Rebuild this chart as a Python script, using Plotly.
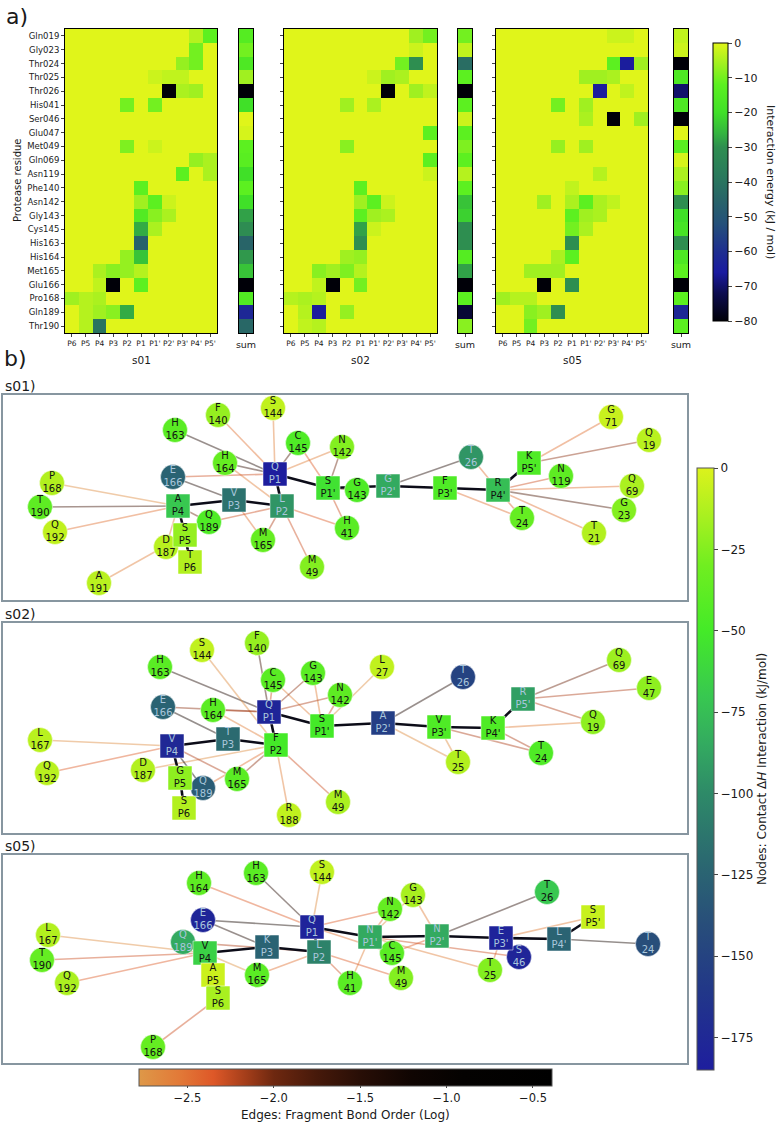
import plotly.graph_objects as go
from plotly.colors import sample_colorscale

W, H = 779, 1124

# ---------------- heatmap data (kJ/mol) ----------------
residues = ["Gln019", "Gly023", "Thr024", "Thr025", "Thr026", "His041", "Ser046", "Glu047",
            "Met049", "Gln069", "Asn119", "Phe140", "Asn142", "Gly143", "Cys145", "His163",
            "His164", "Met165", "Glu166", "Pro168", "Gln189", "Thr190"]
positions = ["P6", "P5", "P4", "P3", "P2", "P1", "P1'", "P2'", "P3'", "P4'", "P5'"]
sample_names = ["s01", "s02", "s05"]

s01_energy = [
    [0, 0, 0, 0, 0, 0, 0, 0, 0, -4, -12],
    [0, 0, 0, 0, 0, 0, 0, 0, 0, -10, 0],
    [0, 0, 0, 0, 0, 0, 0, 0, -7, -10, 0],
    [0, 0, 0, 0, 0, 0, -2, -3, -3, 0, 0],
    [0, 0, 0, 0, 0, 0, 0, -80, -5, -6, 0],
    [0, 0, 0, 0, -10, 0, -10, 0, 0, 0, 0],
    [0, 0, 0, 0, 0, 0, 0, 0, 0, 0, 0],
    [0, 0, 0, 0, 0, 0, 0, 0, 0, 0, 0],
    [0, 0, 0, 0, -9, 0, -2, 0, 0, 0, 0],
    [0, 0, 0, 0, 0, 0, 0, 0, 0, -7, -5],
    [0, 0, 0, 0, 0, 0, 0, 0, -12, 0, -5],
    [0, 0, 0, 0, 0, -12, 0, 0, 0, 0, 0],
    [0, 0, 0, 0, 0, -6, -12, -2, 0, 0, 0],
    [0, 0, 0, 0, 0, -15, -8, -5, 0, 0, 0],
    [0, 0, 0, 0, 0, -27, -5, 0, 0, 0, 0],
    [0, 0, 0, 0, 0, -46, 0, 0, 0, 0, 0],
    [0, 0, 0, 0, -7, -24, 0, 0, 0, 0, 0],
    [0, 0, -5, -8, -7, -4, 0, 0, 0, 0, 0],
    [0, 0, -3, -80, 0, -12, 0, 0, 0, 0, 0],
    [-6, -4, -5, 0, 0, 0, 0, 0, 0, 0, 0],
    [0, -4, -6, -8, -27, 0, 0, 0, 0, 0, 0],
    [0, -4, -40, 0, 0, 0, 0, 0, 0, 0, 0],
]
s02_energy = [
    [0, 0, 0, 0, 0, 0, 0, 0, 0, -6, -10],
    [0, 0, 0, 0, 0, 0, 0, 0, 0, -2, 0],
    [0, 0, 0, 0, 0, 0, 0, 0, -10, -30, 0],
    [0, 0, 0, 0, 0, 0, -2, -6, -5, 0, 0],
    [0, 0, 0, 0, 0, 0, 0, -80, 0, -6, -3],
    [0, 0, 0, 0, -6, 0, -5, 0, 0, 0, 0],
    [0, 0, 0, 0, 0, 0, 0, 0, 0, 0, 0],
    [0, 0, 0, 0, 0, 0, 0, 0, 0, 0, -12],
    [0, 0, 0, 0, -8, 0, 0, 0, 0, 0, 0],
    [0, 0, 0, 0, 0, 0, 0, 0, 0, 0, -12],
    [0, 0, 0, 0, 0, 0, 0, 0, 0, 0, -2],
    [0, 0, 0, 0, 0, -12, 0, 0, 0, 0, 0],
    [0, 0, 0, 0, 0, -6, -12, -2, 0, 0, 0],
    [0, 0, 0, 0, 0, -12, -6, -5, 0, 0, 0],
    [0, 0, 0, 0, 0, -28, -2, 0, 0, 0, 0],
    [0, 0, 0, 0, 0, -30, 0, 0, 0, 0, 0],
    [0, 0, 0, 0, -6, -7, 0, 0, 0, 0, 0],
    [0, 0, -8, -6, -9, -4, 0, 0, 0, 0, 0],
    [0, 0, -3, -80, 0, -10, 0, 0, 0, 0, 0],
    [-4, -5, -4, 0, 0, 0, 0, 0, 0, 0, 0],
    [0, -4, -65, 0, -7, 0, 0, 0, 0, 0, 0],
    [0, -3, -4, 0, 0, 0, 0, 0, 0, 0, 0],
]
s05_energy = [
    [0, 0, 0, 0, 0, 0, 0, 0, -2, -2, 0],
    [0, 0, 0, 0, 0, 0, 0, 0, 0, 0, 0],
    [0, 0, 0, 0, 0, 0, 0, 0, -12, -65, -6],
    [0, 0, 0, 0, 0, 0, -6, -6, -5, 0, 0],
    [0, 0, 0, 0, 0, 0, 0, -65, 0, -3, 0],
    [0, 0, 0, 0, -10, 0, -6, 0, 0, 0, 0],
    [0, 0, 0, 0, 0, 0, -5, 0, -80, 0, -6],
    [0, 0, 0, 0, 0, 0, 0, 0, 0, 0, 0],
    [0, 0, 0, 0, -7, 0, -6, 0, 0, 0, 0],
    [0, 0, 0, 0, 0, 0, 0, 0, 0, 0, 0],
    [0, 0, 0, 0, 0, 0, 0, -4, 0, 0, 0],
    [0, 0, 0, 0, 0, -3, 0, 0, 0, 0, 0],
    [0, 0, 0, -6, 0, -5, -12, -5, -3, 0, 0],
    [0, 0, 0, 0, 0, -12, -6, -5, 0, 0, 0],
    [0, 0, 0, 0, 0, -10, -5, 0, 0, 0, 0],
    [0, 0, 0, 0, 0, -30, 0, 0, 0, 0, 0],
    [0, 0, 0, 0, -5, -12, 0, 0, 0, 0, 0],
    [0, 0, -6, -6, -6, 0, 0, 0, 0, 0, 0],
    [0, 0, 0, -80, 0, -30, 0, 0, 0, 0, 0],
    [-6, -4, -4, 0, 0, 0, 0, 0, 0, 0, 0],
    [0, 0, -8, -6, -30, 0, 0, 0, 0, 0, 0],
    [0, 0, -10, 0, 0, 0, 0, 0, 0, 0, 0],
]
s01_sum = [-14, -10, -16, -6, -92, -20, 0, -1, -12, -13, -20, -12, -20, -28, -31, -45, -29, -24, -95, -15, -62, -44]
s02_sum = [-10, -3, -42, -12, -88, -12, -2, -12, -9, -12, -4, -12, -24, -22, -30, -30, -14, -28, -95, -12, -75, -8]
s05_sum = [-3, -2, -85, -16, -70, -16, -92, 0, -13, -1, -5, -8, -30, -20, -18, -30, -16, -12, -100, -12, -62, -12]

# ---------------- network data ----------------
s01_labels = ["F 140", "S 144", "H 163", "C 145", "N 142", "H 164", "E 166", "G 143", "P 168", "T 190",
              "Q 189", "Q 192", "H 41", "M 165", "D 187", "M 49", "A 191", "G 71", "Q 19", "T 26",
              "N 119", "Q 69", "G 23", "T 24", "T 21", "Q P1", "S P1'", "G P2'", "V P3", "L P2",
              "A P4", "S P5", "T P6", "K P5'", "F P3'", "R P4'"]
s01_x = [218, 273, 175, 298, 342, 225, 173, 357, 52, 40, 209, 55, 347, 263, 166, 312, 99, 611, 649, 471,
         561, 632, 624, 522, 594, 275, 328, 388, 234, 282, 178, 185, 190, 529, 445, 498]
s01_y = [415, 408, 430, 443, 447, 463, 477, 490, 483, 507, 522, 532, 528, 540, 547, 567, 583, 417, 440, 457,
         476, 486, 510, 518, 533, 474, 488, 486, 500, 506, 506, 535, 562, 463, 488, 490]
s01_dh = [-20, -8, -40, -45, -25, -35, -125, -45, -12, -38, -45, -8, -40, -35, -10, -25, -10, -6, -10, -95,
          -38, -14, -25, -35, -12, -185, -55, -85, -115, -95, -70, -20, -12, -45, -45, -75]
s01_chain = ["T P6", "S P5", "A P4", "V P3", "L P2", "Q P1", "S P1'", "G P2'", "F P3'", "R P4'", "K P5'"]
s01_src = ["H 163", "F 140", "S 144", "C 145", "H 164", "H 164", "E 166", "E 166", "N 142", "N 142", "C 145",
           "H 41", "H 41", "M 49", "M 165", "M 165", "Q 189", "Q 189", "P 168", "T 190", "Q 192", "A 191",
           "D 187", "G 143", "T 26", "T 26", "G 71", "Q 19", "N 119", "Q 69", "G 23", "T 21", "T 24", "T 24"]
s01_dst = ["Q P1", "Q P1", "Q P1", "Q P1", "Q P1", "L P2", "Q P1", "V P3", "S P1'", "Q P1", "S P1'",
           "S P1'", "L P2", "L P2", "L P2", "V P3", "L P2", "A P4", "A P4", "A P4", "A P4", "S P5",
           "A P4", "S P1'", "G P2'", "R P4'", "K P5'", "K P5'", "R P4'", "R P4'", "R P4'", "R P4'", "R P4'", "F P3'"]
s01_bo = [-1.4, -2.5, -2.6, -1.8, -1.6, -2.6, -2.3, -1.4, -2.0, -2.6, -2.4,
          -2.3, -2.4, -2.3, -2.2, -2.5, -2.3, -2.0, -2.7, -1.7, -2.5, -2.6,
          -2.6, -2.0, -1.4, -2.5, -2.5, -2.1, -2.3, -2.5, -1.8, -2.5, -2.4, -2.5]

s02_labels = ["S 144", "F 140", "H 163", "G 143", "L 27", "C 145", "N 142", "E 166", "H 164", "L 167",
              "Q 192", "D 187", "M 165", "Q 189", "R 188", "M 49", "T 26", "Q 69", "E 47", "Q 19",
              "T 24", "T 25", "Q P1", "S P1'", "A P2'", "T P3", "V P4", "F P2", "G P5", "S P6",
              "R P5'", "V P3'", "K P4'"]
s02_x = [202, 257, 160, 313, 382, 273, 340, 163, 213, 40, 47, 143, 237, 203, 289, 338, 463, 619, 649, 593,
         541, 458, 269, 322, 383, 228, 172, 276, 180, 184, 523, 439, 493]
s02_y = [650, 643, 667, 673, 667, 680, 695, 707, 710, 740, 773, 770, 779, 788, 815, 802, 677, 660, 688, 722,
         753, 762, 712, 726, 723, 739, 746, 745, 778, 808, 699, 727, 728]
s02_dh = [-8, -20, -40, -40, -8, -40, -38, -125, -40, -10, -10, -12, -40, -130, -8, -14, -150, -18, -22, -22,
          -45, -12, -178, -50, -155, -120, -175, -50, -22, -12, -90, -45, -45]
s02_chain = ["S P6", "G P5", "V P4", "T P3", "F P2", "Q P1", "S P1'", "A P2'", "V P3'", "K P4'", "R P5'"]
s02_src = ["H 163", "F 140", "S 144", "C 145", "C 145", "G 143", "G 143", "N 142", "N 142", "L 27", "E 166",
           "E 166", "H 164", "H 164", "L 167", "Q 192", "D 187", "M 165", "M 165", "Q 189", "Q 189", "R 188",
           "M 49", "T 26", "T 25", "T 25", "T 24", "T 24", "Q 19", "Q 19", "E 47", "Q 69"]
s02_dst = ["Q P1", "Q P1", "F P2", "Q P1", "S P1'", "Q P1", "S P1'", "Q P1", "S P1'", "S P1'", "Q P1",
           "T P3", "Q P1", "F P2", "V P4", "V P4", "F P2", "F P2", "V P4", "V P4", "F P2", "F P2",
           "F P2", "A P2'", "A P2'", "V P3'", "V P3'", "K P4'", "K P4'", "R P5'", "R P5'", "R P5'"]
s02_bo = [-1.4, -1.7, -2.7, -2.3, -2.6, -2.1, -2.6, -2.2, -2.3, -2.7, -2.1,
          -1.3, -2.2, -2.6, -2.7, -2.4, -2.7, -2.1, -2.2, -1.0, -2.5, -2.6,
          -2.3, -1.4, -2.7, -2.7, -2.2, -2.2, -2.6, -2.2, -2.2, -2.0]

s05_labels = ["H 164", "H 163", "S 144", "N 142", "G 143", "E 166", "Q 189", "L 167", "T 190", "Q 192",
              "C 145", "M 165", "H 41", "P 168", "T 26", "T 24", "S 46", "M 49", "T 25", "Q P1",
              "N P1'", "K P3", "L P2", "V P4", "A P5", "S P6", "S P5'", "N P2'", "E P3'", "L P4'"]
s05_x = [199, 256, 322, 390, 413, 203, 183, 48, 42, 67, 392, 257, 350, 153, 547, 648, 519, 401, 490, 312,
         370, 267, 319, 205, 213, 218, 593, 437, 501, 559]
s05_y = [883, 873, 872, 909, 895, 920, 942, 935, 960, 983, 953, 975, 983, 1047, 892, 944, 957, 978, 970, 927,
         937, 947, 952, 953, 975, 998, 917, 936, 938, 939]
s05_dh = [-38, -40, -8, -35, -15, -178, -85, -12, -35, -14, -40, -40, -40, -35, -70, -140, -178, -25, -25, -180,
          -85, -125, -105, -65, -5, -15, -6, -85, -180, -125]
s05_chain = ["S P6", "A P5", "V P4", "K P3", "L P2", "Q P1", "N P1'", "N P2'", "E P3'", "L P4'", "S P5'"]
s05_src = ["H 164", "H 163", "S 144", "N 142", "N 142", "G 143", "G 143", "E 166", "E 166", "Q 189", "L 167",
           "T 190", "Q 192", "M 165", "M 165", "H 41", "H 41", "C 145", "C 145", "M 49", "P 168", "T 26",
           "T 25", "T 25", "S 46", "S 46", "S P5'", "T 24"]
s05_dst = ["Q P1", "Q P1", "Q P1", "Q P1", "N P1'", "N P2'", "N P1'", "Q P1", "K P3", "L P2", "V P4",
           "V P4", "V P4", "L P2", "V P4", "L P2", "N P1'", "Q P1", "N P2'", "L P2", "S P6", "N P2'",
           "N P1'", "E P3'", "E P3'", "N P1'", "E P3'", "L P4'"]
s05_bo = [-2.4, -1.5, -2.7, -2.4, -2.5, -2.6, -2.7, -1.3, -1.4, -2.2, -2.7,
          -2.3, -2.4, -2.5, -2.75, -2.3, -2.6, -2.5, -2.4, -2.4, -2.3, -1.5,
          -2.6, -2.5, -1.0, -2.3, -2.6, -1.3]

# ---------------- colour scales ----------------
HM_MIN, HM_MAX = -80, 0
hm_stops = [(-80, "rgb(0,0,8)"), (-72, "rgb(12,12,80)"), (-66, "rgb(26,26,160)"), (-60, "rgb(30,46,144)"),
            (-52, "rgb(36,80,122)"), (-45, "rgb(40,100,104)"), (-38, "rgb(42,122,92)"),
            (-30, "rgb(46,142,80)"), (-26, "rgb(52,180,64)"), (-20, "rgb(64,224,40)"),
            (-12, "rgb(92,240,32)"), (-6, "rgb(160,240,32)"), (0, "rgb(224,245,26)")]
hm_scale = [[(v - HM_MIN) / (HM_MAX - HM_MIN), c] for v, c in hm_stops]

ND_MIN, ND_MAX = -185, 0
nd_stops = [(-185, "rgb(30,30,158)"), (-160, "rgb(34,56,136)"), (-140, "rgb(40,78,122)"),
            (-120, "rgb(43,106,112)"), (-100, "rgb(46,138,104)"), (-85, "rgb(51,170,96)"),
            (-70, "rgb(56,200,80)"), (-50, "rgb(68,234,40)"), (-30, "rgb(112,238,32)"),
            (-15, "rgb(168,240,32)"), (0, "rgb(220,242,28)")]
nd_scale = [[(v - ND_MIN) / (ND_MAX - ND_MIN), c] for v, c in nd_stops]

ED_MIN, ED_MAX = -2.78, -0.39
ed_stops = [(-2.78, "rgb(222,152,72)"), (-2.55, "rgb(226,122,56)"), (-2.35, "rgb(222,88,40)"),
            (-2.15, "rgb(160,60,25)"), (-2.0, "rgb(110,40,16)"), (-1.75, "rgb(70,25,10)"),
            (-1.5, "rgb(40,14,6)"), (-1.2, "rgb(15,5,2)"), (-0.9, "rgb(4,2,1)"), (-0.39, "rgb(0,0,0)")]
ed_scale = [[(v - ED_MIN) / (ED_MAX - ED_MIN), c] for v, c in ed_stops]


def fx(p):
    return p / W


def fy(p):
    return 1 - p / H


fig = go.Figure()
layout = dict(width=W, height=H, margin=dict(l=0, r=0, t=0, b=0, autoexpand=False),
              paper_bgcolor="white", plot_bgcolor="white",
              font=dict(family="DejaVu Sans", color="#1a1a1a"), showlegend=False)


def note(x, y, text, size, **kw):
    d = dict(x=fx(x), y=fy(y), text=text, showarrow=False, xref="paper", yref="paper",
             xanchor="center", yanchor="middle", font=dict(size=size))
    d.update(kw)
    return d


# ---------------- panel a: heatmaps ----------------
hm_geom = [(65, 217, 239, 253), (284, 437, 458, 472), (496, 648, 674, 688)]
HM_TOP, HM_BOT = 29, 333
energies = [s01_energy, s02_energy, s05_energy]
sums = [s01_sum, s02_sum, s05_sum]
annotations = []
for i in range(3):
    a_h, a_s = 2 * i + 1, 2 * i + 2
    xh = "x" if a_h == 1 else f"x{a_h}"
    yh = "y" if a_h == 1 else f"y{a_h}"
    xs, ys = f"x{a_s}", f"y{a_s}"
    fig.add_trace(go.Heatmap(z=energies[i], x=positions, y=residues, coloraxis="coloraxis",
                             xaxis=xh, yaxis=yh, hoverinfo="skip"))
    fig.add_trace(go.Heatmap(z=[[v] for v in sums[i]], x=["sum"], y=residues, coloraxis="coloraxis",
                             xaxis=xs, yaxis=ys, hoverinfo="skip"))
    l, r, sl, sr = hm_geom[i]
    frame = dict(showline=True, mirror=True, linecolor="black", linewidth=1,
                 showgrid=False, zeroline=False)
    layout["xaxis" if a_h == 1 else f"xaxis{a_h}"] = dict(
        domain=[fx(l), fx(r)], anchor=yh, type="category", tickmode="array", tickvals=positions,
        ticks="outside", ticklen=3, tickangle=0, tickfont=dict(size=7.5), **frame)
    layout["yaxis" if a_h == 1 else f"yaxis{a_h}"] = dict(
        domain=[fy(HM_BOT), fy(HM_TOP)], anchor=xh, type="category", autorange="reversed",
        tickmode="array", tickvals=residues, ticks="outside", ticklen=3,
        showticklabels=(i == 0), tickfont=dict(size=8.5), **frame)
    layout[f"xaxis{a_s}"] = dict(domain=[fx(sl), fx(sr)], anchor=ys, type="category",
                                 ticks="outside", ticklen=3, tickangle=0, tickfont=dict(size=9.5), **frame)
    layout[f"yaxis{a_s}"] = dict(domain=[fy(HM_BOT), fy(HM_TOP)], anchor=xs, type="category",
                                 autorange="reversed", showticklabels=False, ticks="", **frame)
    annotations.append(note((l + r) / 2, 360, sample_names[i], 10.5))

layout["coloraxis"] = dict(
    colorscale=hm_scale, cmin=HM_MIN, cmax=HM_MAX,
    colorbar=dict(x=fx(713), xanchor="left", y=fy(43), yanchor="top", len=(321 - 43) / H,
                  lenmode="fraction", thickness=15, thicknessmode="pixels", xpad=0, ypad=0,
                  outlinewidth=1, outlinecolor="black", ticks="outside", ticklen=4,
                  tickvals=[0, -10, -20, -30, -40, -50, -60, -70, -80],
                  ticktext=["0", "\u221210", "\u221220", "\u221230", "\u221240", "\u221250",
                            "\u221260", "\u221270", "\u221280"],
                  tickfont=dict(size=11)))

# ---------------- panel b: networks ----------------
boxes = [(395, 600), (623, 833), (855, 1063)]
BOX_L, BOX_R = 3, 687
nets = [
    (s01_labels, s01_x, s01_y, s01_dh, s01_chain, s01_src, s01_dst, s01_bo),
    (s02_labels, s02_x, s02_y, s02_dh, s02_chain, s02_src, s02_dst, s02_bo),
    (s05_labels, s05_x, s05_y, s05_dh, s05_chain, s05_src, s05_dst, s05_bo),
]
for k, (labels, xs_, ys_, dh, chain, src, dst, bo) in enumerate(nets):
    ax = 7 + k
    xa, ya = f"x{ax}", f"y{ax}"
    top, bot = boxes[k]
    pos = {lab: (xs_[j], ys_[j]) for j, lab in enumerate(labels)}
    # contact edges
    for s, d, b in zip(src, dst, bo):
        col = sample_colorscale(ed_scale, [(b - ED_MIN) / (ED_MAX - ED_MIN)])[0]
        fig.add_trace(go.Scatter(x=[pos[s][0], pos[d][0]], y=[pos[s][1], pos[d][1]], mode="lines",
                                 line=dict(color=col, width=1.6), opacity=0.45, xaxis=xa, yaxis=ya,
                                 hoverinfo="skip"))
    # backbone
    bx, by = [], []
    for a, b in zip(chain[:-1], chain[1:]):
        bx += [pos[a][0], pos[b][0], None]
        by += [pos[a][1], pos[b][1], None]
    fig.add_trace(go.Scatter(x=bx, y=by, mode="lines", line=dict(color="#0c0c18", width=2.6),
                             xaxis=xa, yaxis=ya, hoverinfo="skip"))
    # nodes
    is_sq = [lab.split(" ")[1].startswith("P") for lab in labels]
    fig.add_trace(go.Scatter(
        x=xs_, y=ys_, mode="markers+text",
        text=[lab.replace(" ", "<br>") for lab in labels],
        textposition="middle center",
        textfont=dict(size=10, family="DejaVu Sans",
                      color=["#a9c6dc" if v <= -80 else "#111" for v in dh]),
        marker=dict(symbol=["square" if q else "circle" for q in is_sq],
                    size=[24 if q else 25 for q in is_sq], color=dh, coloraxis="coloraxis2",
                    opacity=1, line=dict(width=1, color="rgba(255,255,255,0.5)")),
        cliponaxis=False, xaxis=xa, yaxis=ya, hoverinfo="skip"))
    layout[f"xaxis{ax}"] = dict(domain=[fx(BOX_L), fx(BOX_R)], range=[BOX_L, BOX_R], anchor=ya,
                                showgrid=False, zeroline=False, showticklabels=False, ticks="",
                                showline=True, mirror=True, linecolor="#8796a0", linewidth=2)
    layout[f"yaxis{ax}"] = dict(domain=[fy(bot), fy(top)], range=[bot, top], anchor=xa,
                                showgrid=False, zeroline=False, showticklabels=False, ticks="",
                                showline=True, mirror=True, linecolor="#8796a0", linewidth=2)
    annotations.append(note(3, top - 9, f"{sample_names[k]})", 14, xanchor="left"))

# dummy trace to display the edge colour bar
fig.add_trace(go.Scatter(x=[-1000, -1000], y=[-1000, -1000], mode="markers",
                         marker=dict(color=[ED_MIN, ED_MAX], coloraxis="coloraxis3", size=2),
                         xaxis="x9", yaxis="y9", hoverinfo="skip"))

layout["coloraxis2"] = dict(
    colorscale=nd_scale, cmin=ND_MIN, cmax=ND_MAX,
    colorbar=dict(x=fx(697), xanchor="left", y=fy(468), yanchor="top", len=(1070 - 468) / H,
                  lenmode="fraction", thickness=17, thicknessmode="pixels", xpad=0, ypad=0,
                  outlinewidth=1, outlinecolor="#555", ticks="outside", ticklen=4,
                  tickvals=[0, -25, -50, -75, -100, -125, -150, -175],
                  ticktext=["0", "\u221225", "\u221250", "\u221275", "\u2212100", "\u2212125",
                            "\u2212150", "\u2212175"],
                  tickfont=dict(size=12)))
layout["coloraxis3"] = dict(
    colorscale=ed_scale, cmin=ED_MIN, cmax=ED_MAX,
    colorbar=dict(orientation="h", x=fx(139), xanchor="left", y=fy(1069), yanchor="top",
                  len=(552 - 139) / W, lenmode="fraction", thickness=17, thicknessmode="pixels",
                  xpad=0, ypad=0, outlinewidth=1, outlinecolor="#555", ticks="outside", ticklen=2,
                  tickvals=[-2.5, -2.0, -1.5, -1.0, -0.5],
                  ticktext=["\u22122.5", "\u22122.0", "\u22121.5", "\u22121.0", "\u22120.5"],
                  tickfont=dict(size=11.5)))

annotations += [
    note(4, 17, "a)", 22, xanchor="left"),
    note(2, 358, "b)", 22, xanchor="left"),
    note(18, 181, "Protease residue", 10, textangle=-90),
    note(770, 182, "Interaction energy (kJ / mol)", 11, textangle=90),
    note(762, 769, "Nodes: Contact \u0394<i>H</i> Interaction (kJ/mol)", 12, textangle=-90),
    note(345, 1115, "Edges: Fragment Bond Order (Log)", 12),
]
layout["annotations"] = annotations
fig.update_layout(**layout)
fig.write_html("out.html", config={"displayModeBar": False},
               post_script="document.body.style.margin='0px';document.body.style.padding='0px';"
                           "document.body.style.overflow='hidden';")
